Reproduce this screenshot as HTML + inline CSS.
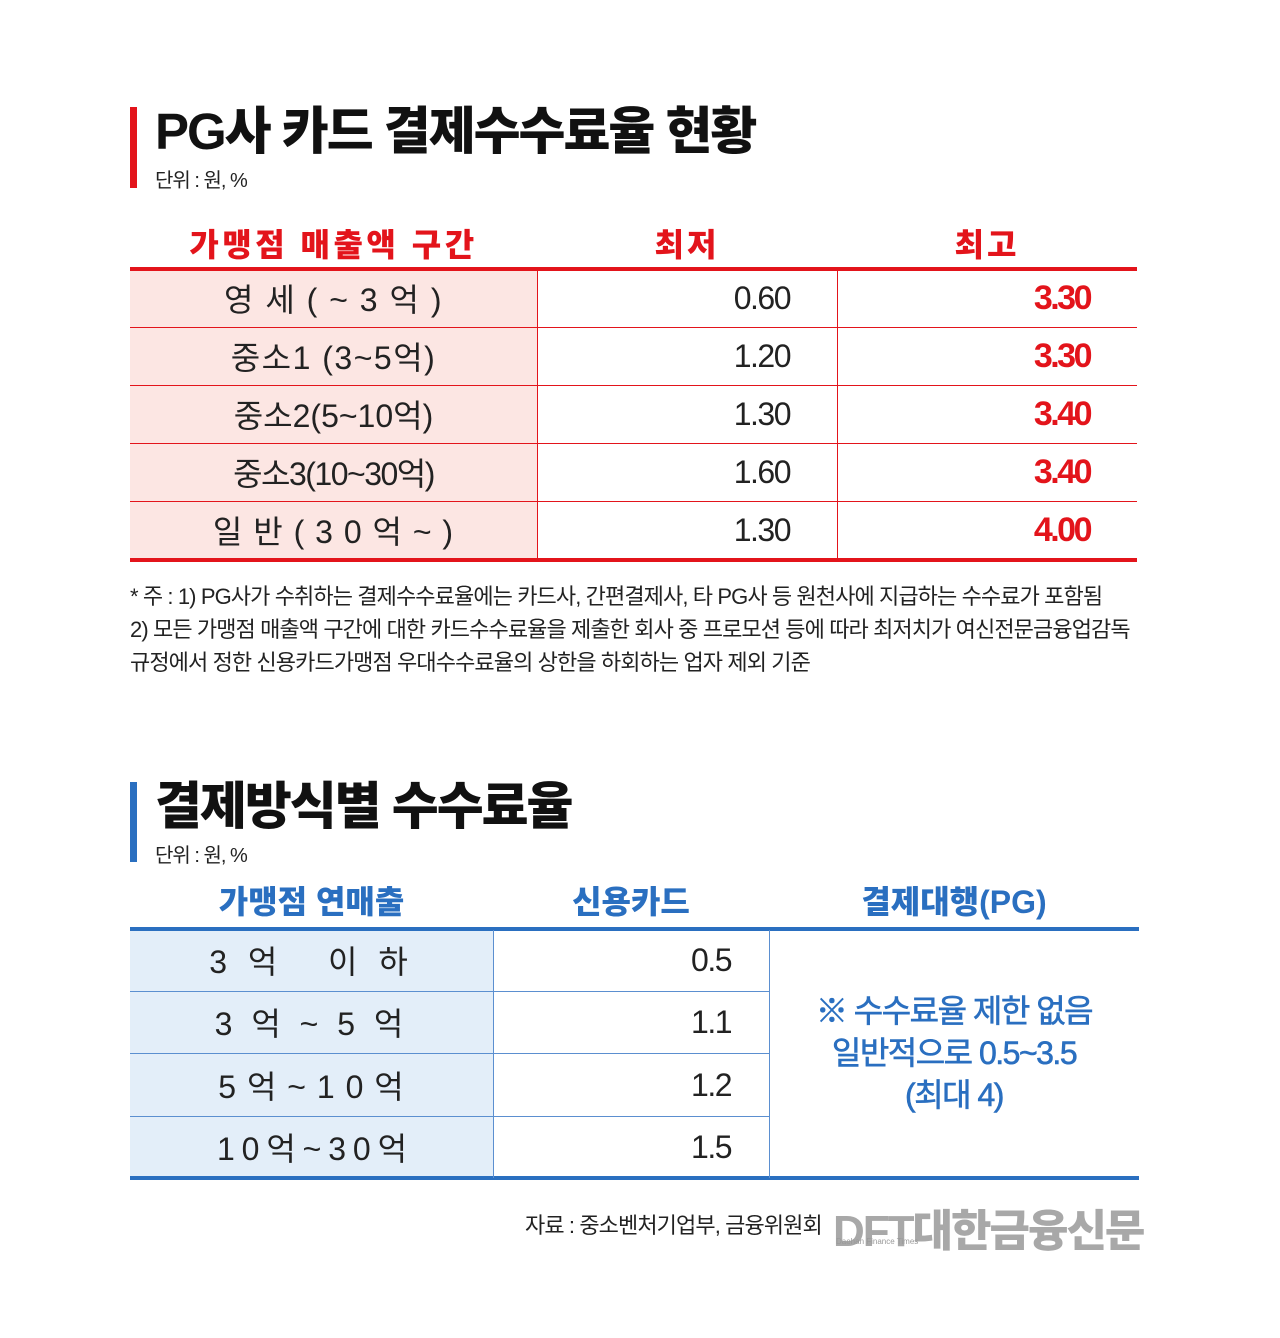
<!DOCTYPE html><html><head><meta charset="utf-8"><style>
body{margin:0;background:#fff;width:1280px;height:1338px;position:relative;overflow:hidden;font-family:"Liberation Sans","Noto Sans CJK KR",sans-serif}
.a{position:absolute;white-space:nowrap}
.t{font-weight:900;font-size:51px;color:#111;letter-spacing:-2px}
.u{font-size:20px;color:#222;letter-spacing:-1px}
.c{font-size:32px;color:#222;text-align:center}
.r{font-size:32px;text-align:right;letter-spacing:-1.5px}
.n{font-size:22px;color:#222;letter-spacing:-0.9px}
</style></head><body>
<div class="a" style="left:130px;top:107px;width:7px;height:81px;background:#e3141b"></div>
<div class="a t" style="left:155px;top:90px">PG사 카드 결제수수료율 현황</div>
<div class="a u" style="left:155px;top:164px">단위 : 원, %</div>
<div class="a" style="left:130px;top:220px;width:407px;text-align:center;font-size:32px;font-weight:900;color:#e3141b;letter-spacing:3.5px">가맹점 매출액 구간</div>
<div class="a" style="left:537px;top:220px;width:300px;text-align:center;font-size:32px;font-weight:900;color:#e3141b;letter-spacing:3px">최저</div>
<div class="a" style="left:837px;top:220px;width:300px;text-align:center;font-size:32px;font-weight:900;color:#e3141b;letter-spacing:3px">최고</div>
<div class="a" style="left:130px;top:270px;width:407px;height:290px;background:#fce6e3"></div>
<div class="a" style="left:130px;top:267px;width:1007px;height:4px;background:#e3141b"></div>
<div class="a" style="left:130px;top:558px;width:1007px;height:4px;background:#e3141b"></div>
<div class="a" style="left:130px;top:327px;width:1007px;height:1px;background:#e3141b"></div>
<div class="a" style="left:130px;top:385px;width:1007px;height:1px;background:#e3141b"></div>
<div class="a" style="left:130px;top:443px;width:1007px;height:1px;background:#e3141b"></div>
<div class="a" style="left:130px;top:501px;width:1007px;height:1px;background:#e3141b"></div>
<div class="a" style="left:537px;top:270px;width:1px;height:290px;background:#e3141b"></div>
<div class="a" style="left:837px;top:270px;width:1px;height:290px;background:#e3141b"></div>
<div class="a c" style="left:130px;top:275px;width:407px;letter-spacing:1.5px">영 세 ( ~ 3 억 )</div>
<div class="a c" style="left:130px;top:333px;width:407px;letter-spacing:1.5px">중소1 (3~5억)</div>
<div class="a c" style="left:130px;top:391px;width:407px;letter-spacing:0px">중소2(5~10억)</div>
<div class="a c" style="left:130px;top:449px;width:407px;letter-spacing:-1.5px">중소3(10~30억)</div>
<div class="a c" style="left:130px;top:507px;width:407px;letter-spacing:1px">일 반 ( 3 0 억 ~ )</div>
<div class="a r" style="left:537px;top:280px;width:253px;color:#222">0.60</div>
<div class="a r" style="left:537px;top:338px;width:253px;color:#222">1.20</div>
<div class="a r" style="left:537px;top:396px;width:253px;color:#222">1.30</div>
<div class="a r" style="left:537px;top:454px;width:253px;color:#222">1.60</div>
<div class="a r" style="left:537px;top:512px;width:253px;color:#222">1.30</div>
<div class="a r" style="left:837px;top:279px;width:253px;color:#e3141b;font-weight:900;font-size:34px;letter-spacing:-2.5px">3.30</div>
<div class="a r" style="left:837px;top:337px;width:253px;color:#e3141b;font-weight:900;font-size:34px;letter-spacing:-2.5px">3.30</div>
<div class="a r" style="left:837px;top:395px;width:253px;color:#e3141b;font-weight:900;font-size:34px;letter-spacing:-2.5px">3.40</div>
<div class="a r" style="left:837px;top:453px;width:253px;color:#e3141b;font-weight:900;font-size:34px;letter-spacing:-2.5px">3.40</div>
<div class="a r" style="left:837px;top:511px;width:253px;color:#e3141b;font-weight:900;font-size:34px;letter-spacing:-2.5px">4.00</div>
<div class="a n" style="left:130px;top:579px">* 주 : 1) PG사가 수취하는 결제수수료율에는 카드사, 간편결제사, 타 PG사 등 원천사에 지급하는 수수료가 포함됨</div>
<div class="a n" style="left:130px;top:612px">2) 모든 가맹점 매출액 구간에 대한 카드수수료율을 제출한 회사 중 프로모션 등에 따라 최저치가 여신전문금융업감독</div>
<div class="a n" style="left:130px;top:645px">규정에서 정한 신용카드가맹점 우대수수료율의 상한을 하회하는 업자 제외 기준</div>

<div class="a" style="left:130px;top:782px;width:7px;height:80px;background:#2a6fc0"></div>
<div class="a t" style="left:155px;top:765px">결제방식별 수수료율</div>
<div class="a u" style="left:155px;top:839px">단위 : 원, %</div>
<div class="a" style="left:130px;top:877px;width:363px;text-align:center;font-size:32px;font-weight:900;color:#2a6fc0">가맹점 연매출</div>
<div class="a" style="left:493px;top:877px;width:276px;text-align:center;font-size:32px;font-weight:900;color:#2a6fc0">신용카드</div>
<div class="a" style="left:769px;top:877px;width:370px;text-align:center;font-size:32px;font-weight:900;color:#2a6fc0">결제대행(PG)</div>
<div class="a" style="left:130px;top:930px;width:363px;height:248px;background:#e3eef9"></div>
<div class="a" style="left:130px;top:927px;width:1009px;height:4px;background:#2a6fc0"></div>
<div class="a" style="left:130px;top:1176px;width:1009px;height:4px;background:#2a6fc0"></div>
<div class="a" style="left:130px;top:991px;width:639px;height:1px;background:#5b8fd0"></div>
<div class="a" style="left:130px;top:1053px;width:639px;height:1px;background:#5b8fd0"></div>
<div class="a" style="left:130px;top:1116px;width:639px;height:1px;background:#5b8fd0"></div>
<div class="a" style="left:493px;top:930px;width:1px;height:248px;background:#5b8fd0"></div>
<div class="a" style="left:769px;top:930px;width:1px;height:248px;background:#5b8fd0"></div>
<div class="a c" style="left:130px;top:937px;width:363px;letter-spacing:6px">3 억 &nbsp; 이 하</div>
<div class="a c" style="left:130px;top:999px;width:363px;letter-spacing:5px">3 억 ~ 5 억</div>
<div class="a c" style="left:130px;top:1062px;width:363px;letter-spacing:1px">5 억 ~ 1 0 억</div>
<div class="a c" style="left:130px;top:1124px;width:363px;letter-spacing:-1px">1 0 억 ~ 3 0 억</div>
<div class="a r" style="left:493px;top:942px;width:238px;color:#222">0.5</div>
<div class="a r" style="left:493px;top:1004px;width:238px;color:#222">1.1</div>
<div class="a r" style="left:493px;top:1067px;width:238px;color:#222">1.2</div>
<div class="a r" style="left:493px;top:1129px;width:238px;color:#222">1.5</div>
<div class="a" style="left:769px;top:990px;width:370px;text-align:center;font-size:32px;line-height:42px;color:#2a6fc0;letter-spacing:-1.5px;white-space:normal;-webkit-text-stroke:0.6px #2a6fc0">※ 수수료율 제한 없음<br>일반적으로 0.5~3.5<br>(최대 4)</div>
<div class="a n" style="left:525px;top:1208px;color:#222">자료 : 중소벤처기업부, 금융위원회</div>
<div class="a" style="left:833px;top:1195px;font-size:44px;font-weight:900;color:#a8a8a8;letter-spacing:-2px">DFT대한금융신문</div>
<div class="a" style="left:836px;top:1237px;font-size:8px;color:#999">Daehan Finance Times</div>
</body></html>
